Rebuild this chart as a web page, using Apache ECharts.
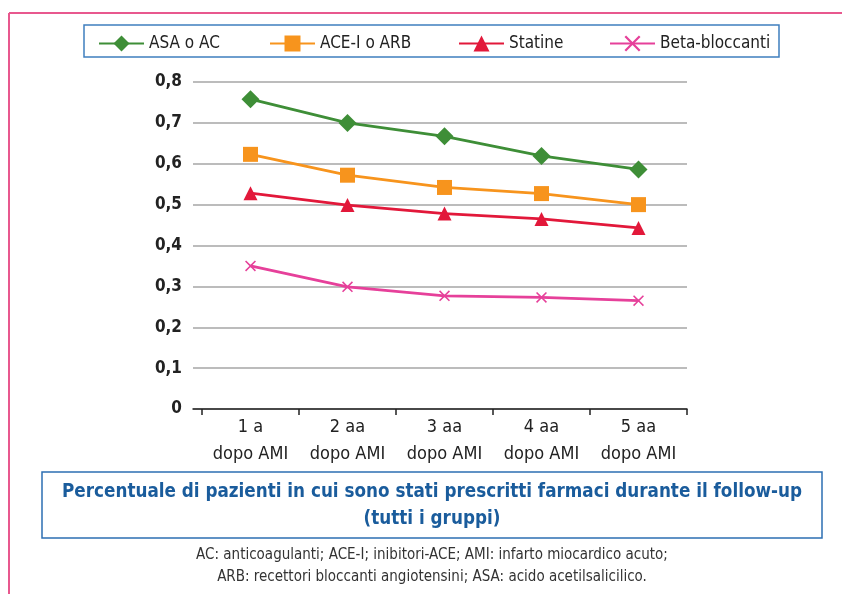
<!DOCTYPE html>
<html>
<head>
<meta charset="utf-8">
<script src="https://cdn.jsdelivr.net/npm/echarts@6/dist/echarts.min.js"></script>
<style>
  html, body { margin: 0; padding: 0; background: #fff; }
  #chart { width: 842px; height: 594px; }
</style>
</head>
<body>
<div id="chart"></div>
<script>
// dati
var categories = ['1 a\ndopo AMI', '2 aa\ndopo AMI', '3 aa\ndopo AMI', '4 aa\ndopo AMI', '5 aa\ndopo AMI'];
var asaAc = [0.758, 0.700, 0.667, 0.619, 0.586];
var aceArb = [0.623, 0.572, 0.542, 0.527, 0.500];
var statine = [0.528, 0.499, 0.478, 0.465, 0.443];
var betaBloccanti = [0.350, 0.299, 0.277, 0.273, 0.265];
var yTicks = [0, 0.1, 0.2, 0.3, 0.4, 0.5, 0.6, 0.7, 0.8];

var FONT = '"DejaVu Sans Condensed", "Roboto", sans-serif';
var crossPath = 'path://M0,1L1,0L5,4L9,0L10,1L6,5L10,9L9,10L5,6L1,10L0,9L4,5Z';

var chart = echarts.init(document.getElementById('chart'));

function serie(name, data, color, symbol, size) {
  return {
    name: name,
    type: 'line',
    xAxisIndex: 0,
    yAxisIndex: 0,
    data: data,
    symbol: symbol,
    symbolSize: size,
    lineStyle: { color: color, width: 2.8 },
    itemStyle: { color: color },
    z: 5
  };
}

function legenda(name, left) {
  return {
    data: [name],
    left: left,
    top: 30,
    itemWidth: 45,
    itemHeight: 20,
    textStyle: { fontFamily: FONT, fontSize: 17, color: '#222' }
  };
}

var options = {
  animation: false,
  graphic: [
    // cornice rosa
    { type: 'line', shape: { x1: 9, y1: 13, x2: 842, y2: 13 }, style: { stroke: '#e8588e', lineWidth: 2 } },
    { type: 'line', shape: { x1: 9, y1: 13, x2: 9, y2: 594 }, style: { stroke: '#e8588e', lineWidth: 2 } },
    // riquadro legenda
    { type: 'rect', shape: { x: 84, y: 25, width: 695, height: 32 }, style: { fill: 'none', stroke: '#3f7fbf', lineWidth: 1.5 } },
    // riquadro titolo
    { type: 'rect', shape: { x: 42, y: 472, width: 780, height: 66 }, style: { fill: 'none', stroke: '#2d6fb3', lineWidth: 1.5 } },
    {
      type: 'text', x: 432, y: 506,
      style: {
        text: 'Percentuale di pazienti in cui sono stati prescritti farmaci durante il follow-up\n(tutti i gruppi)',
        fill: '#1a5c9c', font: 'bold 18.7px ' + FONT, align: 'center', verticalAlign: 'middle', lineHeight: 27
      }
    },
    {
      type: 'text', x: 432, y: 566,
      style: {
        text: 'AC: anticoagulanti; ACE-I; inibitori-ACE; AMI: infarto miocardico acuto;\nARB: recettori bloccanti angiotensini; ASA: acido acetilsalicilico.',
        fill: '#333', font: '15px ' + FONT, align: 'center', verticalAlign: 'middle', lineHeight: 22
      }
    }
  ],
  legend: [
    legenda('ASA o AC', 93),
    legenda('ACE-I o ARB', 264),
    legenda('Statine', 453),
    legenda('Beta-bloccanti', 604)
  ],
  grid: [
    { left: 202, right: 155, top: 82, bottom: 185 },
    { left: 193, right: 155, top: 82, bottom: 185 }
  ],
  xAxis: [
    {
      type: 'category',
      gridIndex: 0,
      data: categories,
      boundaryGap: true,
      axisLine: { show: false },
      axisTick: { show: true, interval: 0, length: 6, lineStyle: { color: '#222', width: 1.5 } },
      axisLabel: { interval: 0, fontFamily: FONT, fontSize: 18, color: '#222', lineHeight: 27, margin: 5 }
    },
    {
      type: 'value',
      gridIndex: 1,
      min: 0, max: 1,
      axisLine: { show: true, onZero: false, lineStyle: { color: '#222', width: 1.5 } },
      axisTick: { show: false },
      axisLabel: { show: false },
      splitLine: { show: false }
    }
  ],
  yAxis: [
    {
      type: 'value',
      gridIndex: 0,
      min: 0, max: 0.8, interval: 0.1,
      axisLine: { show: false },
      axisTick: { show: false },
      splitLine: { show: false },
      axisLabel: {
        fontFamily: FONT, fontSize: 17, fontWeight: 'bold', color: '#222', margin: 20,
        formatter: function (v) {
          var t = yTicks.find(function (k) { return Math.abs(k - v) < 1e-6; });
          return t === 0 ? '0' : String(t.toFixed(1)).replace('.', ',');
        }
      }
    },
    {
      type: 'value',
      gridIndex: 1,
      min: 0, max: 0.8, interval: 0.1,
      axisLine: { show: false },
      axisTick: { show: false },
      axisLabel: { show: false },
      splitLine: { show: true, lineStyle: { color: '#a6a6a6', width: 1.5 } }
    }
  ],
  series: [
    serie('ASA o AC', asaAc, '#3e8e37', 'diamond', 18),
    serie('ACE-I o ARB', aceArb, '#f7941d', 'rect', 15),
    serie('Statine', statine, '#e2183a', 'triangle', 14),
    serie('Beta-bloccanti', betaBloccanti, '#e6409a', crossPath, 11)
  ]
};

chart.setOption(options);
</script>
</body>
</html>
